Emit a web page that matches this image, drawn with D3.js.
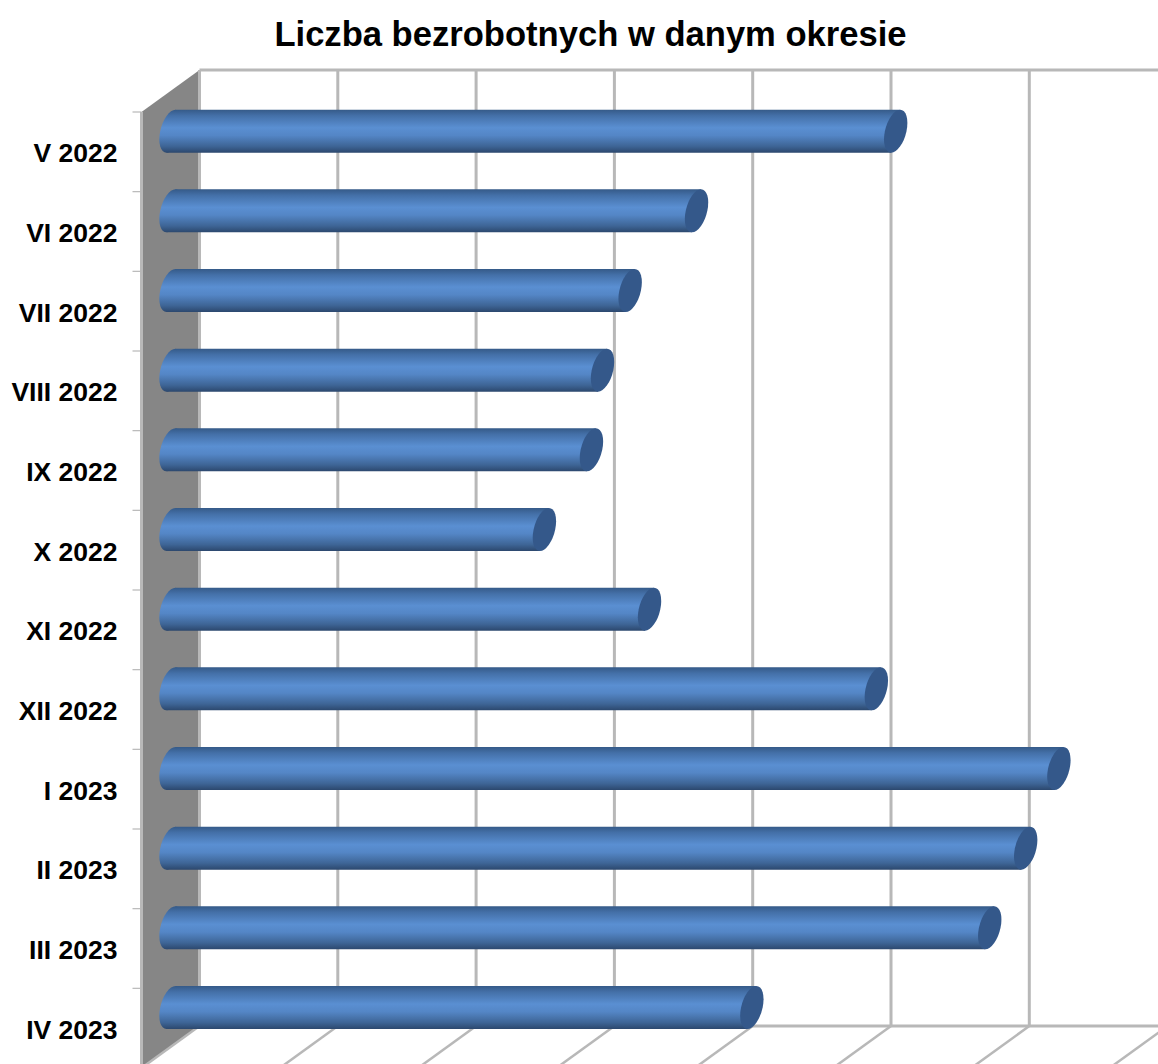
<!DOCTYPE html>
<html><head><meta charset="utf-8">
<script src="https://cdnjs.cloudflare.com/ajax/libs/d3/7.8.5/d3.min.js"></script>
<style>html,body{margin:0;padding:0;background:#fff}svg{display:block}text{font-family:"Liberation Sans",Arial,sans-serif;font-weight:bold;fill:#000}</style>
</head><body><div id="c"></div>
<script>
const titleText = "Liczba bezrobotnych w danym okresie";
const categories = ["V 2022","VI 2022","VII 2022","VIII 2022","IX 2022","X 2022","XI 2022","XII 2022","I 2023","II 2023","III 2023","IV 2023"];
const values = [5.24,3.80,3.32,3.12,3.04,2.70,3.46,5.10,6.42,6.18,5.92,4.20];
const gridTicks = [0,1,2,3,4,5,6,7];

const W=1158,H=1064;
const depthX=58, depthY=42, backLeft=199.5, backTop=70, backBottom=1026;
const svg=d3.select("#c").append("svg").attr("width",W).attr("height",H);
const x=d3.scaleLinear().domain([0,7]).range([backLeft,backLeft+7*138.3]);
const y=d3.scaleBand().domain(categories).range([backTop+depthY,backBottom+depthY]);

const defs=svg.append("defs");
const g=defs.append("linearGradient").attr("id","cyl").attr("x1",0).attr("y1",0).attr("x2",0).attr("y2",1);
[[0,"#355a88"],[0.14,"#4470a8"],[0.42,"#5a8fd2"],[0.6,"#5486c6"],[0.85,"#3e6596"],[1,"#2c486e"]].forEach(d=>g.append("stop").attr("offset",d[0]).attr("stop-color",d[1]));

const gridColor="#b8b8b8";
// left wall
svg.append("polygon").attr("fill","#868686")
 .attr("points",[[backLeft,backTop],[backLeft-depthX,backTop+depthY],[backLeft-depthX,backBottom+depthY],[backLeft,backBottom]].join(" "));
svg.append("line").attr("x1",backLeft-depthX).attr("x2",backLeft-depthX).attr("y1",backTop+depthY).attr("y2",H).attr("stroke",gridColor).attr("stroke-width",3);
// back wall frame and grid
svg.selectAll("line.grid").data(gridTicks).join("line").attr("class","grid")
 .attr("x1",d=>x(d)).attr("x2",d=>x(d)).attr("y1",backTop).attr("y2",backBottom)
 .attr("stroke",gridColor).attr("stroke-width",3);
svg.selectAll("line.floor").data(gridTicks).join("line").attr("class","floor")
 .attr("x1",d=>x(d)).attr("x2",d=>x(d)-depthX).attr("y1",backBottom).attr("y2",backBottom+depthY)
 .attr("stroke",gridColor).attr("stroke-width",2.5);
svg.append("line").attr("x1",backLeft).attr("x2",W).attr("y1",backTop).attr("y2",backTop).attr("stroke",gridColor).attr("stroke-width",3);
svg.append("line").attr("x1",backLeft).attr("x2",W).attr("y1",backBottom).attr("y2",backBottom).attr("stroke",gridColor).attr("stroke-width",3);

// category axis
const axis=d3.axisLeft(y).tickSize(0).tickPadding(24);
const ax=svg.append("g").attr("transform",`translate(${backLeft-depthX},0)`).call(axis);
ax.select(".domain").remove();
ax.selectAll("text").attr("font-size",26.5).attr("dy","0.4em");
svg.selectAll("line.tk").data(categories).join("line").attr("class","tk")
 .attr("x1",backLeft-depthX-9).attr("x2",backLeft-depthX).attr("y1",d=>y(d)).attr("y2",d=>y(d))
 .attr("stroke",gridColor).attr("stroke-width",1.2);

// cylinders
const barH=43, a=10.8, b=-4.5, barShift=-28.5;
const circle=(()=>{const p=d3.path();p.arc(0,0,1,0,2*Math.PI);return p.toString();})();
const bars=svg.selectAll("g.bar").data(categories.map((c,i)=>({c,v:values[i]}))).join("g").attr("class","bar")
 .attr("transform",d=>`translate(0,${y(d.c)+y.bandwidth()/2-depthY/2+0.3})`);
bars.append("path").attr("d",circle).attr("fill","url(#cyl)")
 .attr("transform",`matrix(${a},0,${b},${barH/2},${x(0)+barShift},0)`);
bars.append("polygon").attr("fill","url(#cyl)")
 .attr("points",d=>{const l=x(0)+barShift,r=x(d.v)+barShift,h=barH/2;
   return [[l-b,-h],[r-b,-h],[r+b,h],[l+b,h]].join(" ");});
bars.append("path").attr("d",circle).attr("fill","#34588a")
 .attr("transform",d=>`matrix(${a},0,${b},${barH/2},${x(d.v)+barShift},0)`);

svg.append("text").attr("x",590.5).attr("y",46).attr("text-anchor","middle").attr("font-size",34.6).text(titleText);
</script></body></html>
